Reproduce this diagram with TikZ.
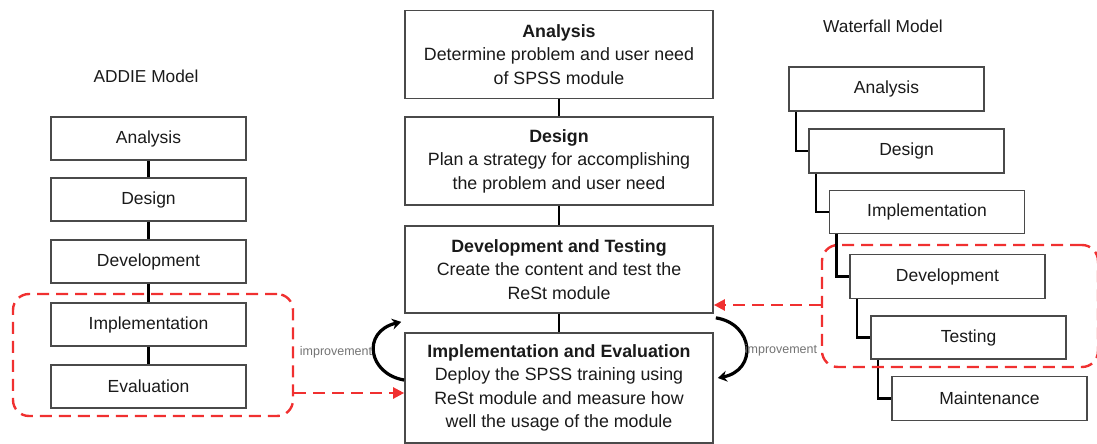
\documentclass[tikz,border=0pt]{standalone}
\usepackage{fontspec}
\setmainfont{Liberation Sans}
\usetikzlibrary{arrows.meta,calc}

\definecolor{boxline}{HTML}{4A4A4A}
\definecolor{txt}{HTML}{1A1A1A}
\definecolor{grp}{HTML}{F03030}

\tikzset{
  stage/.style={draw=boxline, line width=1.7pt, fill=white, rectangle,
    minimum width=195pt, minimum height=43pt, inner sep=0pt,
    text=txt, font=\fontsize{17.5}{20}\selectfont},
  wide/.style={draw=boxline, line width=1.7pt, fill=white, rectangle,
    minimum width=308pt, inner sep=0pt, align=center,
    text=txt, font=\fontsize{17.8}{23.5}\selectfont},
  link/.style={draw=black, line width=2.6pt},
  group/.style={draw=grp, dash pattern=on 12pt off 7pt, line width=2.4pt,
    rounded corners=16pt, rectangle, inner sep=0pt},
  feed/.style={draw=grp, dash pattern=on 12pt off 7pt, line width=2.4pt,
    -{Triangle[length=11pt,width=11pt]}},
  loop/.style={draw=black, line width=3.2pt, -{Stealth[length=9pt,width=11pt]}},
  note/.style={text=gray!90!black, font=\fontsize{12.5}{14}\selectfont, inner sep=0pt},
  title/.style={text=txt, font=\fontsize{17.3}{20}\selectfont, inner sep=0pt}
}

\begin{document}
\begin{tikzpicture}[x=1pt,y=-1pt]
\useasboundingbox (0,0) rectangle (1097,444);

% ---------- ADDIE model ----------
\node[title] (addie) at (146,76) {ADDIE Model};
\node[stage] (aA) at (148.5,138.5) {Analysis};
\node[stage] (aD) at (148.5,199.5) {Design};
\node[stage] (aV) at (148.5,261.5) {Development};
\node[stage] (aI) at (148.5,324.5) {Implementation};
\node[stage] (aE) at (148.5,386.5) {Evaluation};
\foreach \u/\v in {aA/aD, aD/aV, aV/aI, aI/aE}
  \draw[link] (\u.south) -- (\v.north);
\node[group, minimum width=280pt, minimum height=122pt] (lgrp) at (153,355) {};

% ---------- combined model ----------
\node[wide, minimum height=88pt] (cA) at (559,54.5)
  {\textbf{Analysis}\\Determine problem and user need\\of SPSS module};
\node[wide, minimum height=88pt] (cD) at (559,161)
  {\textbf{Design}\\Plan a strategy for accomplishing\\the problem and user need};
\node[wide, minimum height=87pt] (cT) at (559,269.5)
  {\textbf{Development and Testing}\\Create the content and test the\\ReSt module};
\node[wide, minimum height=110pt] (cE) at (559,388)
  {\textbf{Implementation and Evaluation}\\Deploy the SPSS training using\\ReSt module and measure how\\well the usage of the module};
\draw[link] (cA.south) -- (cD.north);
\draw[link] (cD.south) -- (cT.north);
\draw[link] (cT.south) -- (cE.north);

% ---------- waterfall model ----------
\node[title] (wf) at (883,26) {Waterfall Model};
\node[stage, minimum height=44pt] (wA) at (886.5,89) {Analysis};
\node[stage, minimum height=44pt] (wD) at (906.5,151) {Design};
\node[stage, minimum height=43pt] (wI) at (927,212) {Implementation};
\node[stage, minimum height=44pt] (wV) at (947.5,276.5) {Development};
\node[stage, minimum height=43pt] (wT) at (968.5,337.5) {Testing};
\node[stage, minimum height=44pt] (wM) at (989.5,398.5) {Maintenance};
\foreach \u/\v in {wA/wD, wD/wI, wI/wV, wV/wT, wT/wM}
  \draw[link, line width=2.4pt] ($(\u.south west)+(8,0)$) |- (\v.west);
\node[group, minimum width=276pt, minimum height=122pt] (rgrp) at (960,306) {};

% ---------- feedback between models ----------
\draw[feed] (lgrp.east |- 0,393) -- (cE.west |- 0,393);
\draw[feed] (rgrp.west |- 0,305) -- (cT.east |- 0,305);

% ---------- improvement loops ----------
\coordinate (l1) at ($(cE.west)+(0,-8)$);
\coordinate (l2) at ($(cT.south west)+(-3,8)$);
\draw[loop] (l1) .. controls +(-36,-6) and +(-40,10) .. (l2);
\node[note] (limp) at (336,352) {improvement};

\coordinate (r1) at ($(cT.south east)+(2,4)$);
\coordinate (r2) at ($(cE.east)+(4,-10)$);
\draw[loop] (r1) .. controls +(38,6) and +(40,-8) .. (r2);
\node[note] (rimp) at (781,350) {improvement};
\end{tikzpicture}
\end{document}
